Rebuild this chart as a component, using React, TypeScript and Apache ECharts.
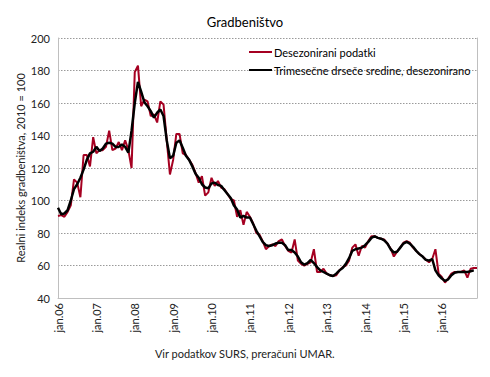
import React, { useEffect, useRef } from "react";
import * as echarts from "echarts";

const years = ["06", "07", "08", "09", "10", "11", "12", "13", "14", "15", "16"];
const months = ["jan", "feb", "mar", "apr", "maj", "jun", "jul", "avg", "sep", "okt", "nov", "dec"];

const desezonirani: number[] = [
  90.5, 91, 90, 93, 97, 113, 111, 102, 128, 128, 121, 139,
  129, 131, 131, 133, 143, 131, 132, 136, 131, 137, 131, 120,
  179, 183, 158, 162, 161, 152, 153, 148, 161, 159, 137, 116,
  125, 141, 141, 129, 128, 125, 122, 117, 111, 115, 103, 105,
  114, 109, 112, 108, 107, 104, 101, 100, 90, 94, 85, 93,
  90, 86, 80, 79, 75, 70, 72, 73, 72, 75, 76, 72,
  69, 68, 76, 63, 61, 60, 61, 62, 70, 56, 56, 58,
  55, 54, 53.5, 54, 57, 59, 60, 63, 71, 73, 66, 72,
  71, 75, 78, 78, 77, 76.5, 76, 73.5, 70.5, 65.5, 68.5, 71,
  74, 75, 74, 71, 69, 67, 65.5, 63.5, 62, 64, 70, 55,
  53, 49.5, 52, 55, 56, 56, 56, 57, 52.5, 58, 58.5, 58.5,
];

const trimesecne: (number | null)[] = [
  95.5, 91.5, 92, 94, 100, 107, 110, 114, 119, 125, 129, 130,
  133, 130.5, 132, 135, 135.5, 135, 133, 133, 134.5, 133, 129.5, 143,
  160, 173, 167, 160.5, 158, 155, 151, 154, 156, 152, 137, 126,
  127.5, 135.5, 137, 132.5, 127.5, 125, 121, 116.5, 114, 110, 108, 107.5,
  110.5, 111, 109.5, 109, 106.5, 104, 101.5, 97, 94.5, 89.5, 90.5, 89.5,
  89.5, 85.5, 81.5, 78, 74.5, 72.5, 72, 72.5, 73.5, 74, 74, 72.5,
  69.5, 69.5, 68, 65.5, 62, 60.5, 61.5, 63.5, 61.5, 59, 57, 56,
  55, 54, 53.5, 55, 57, 58.5, 61, 64.5, 69, 70, 70.5, 71,
  72.5, 74.5, 77, 78, 77, 76.5, 75.5, 73.5, 70, 68, 68.5, 71,
  73.5, 74.5, 73.5, 71.5, 69, 67, 65.5, 63.5, 63, 64, 57, 54,
  52, 50.5, 51.5, 54, 55.5, 56, 56, 56, 56, 56.5, 57, null,
];

const seriesNames = ["Desezonirani podatki", "Trimesečne drseče sredine, desezonirano"];
const titleText = "Gradbeništvo";
const yAxisName = "Realni indeks gradbeništva, 2010 = 100";
const sourceText = "Vir podatkov SURS, preračuni UMAR.";

const categories: string[] = [];
years.forEach((y) => months.forEach((m) => categories.push(m + "." + y)));

const FONT = "Lato, 'Open Sans', sans-serif";

export default function App() {
  const ref = useRef<HTMLDivElement>(null);
  useEffect(() => {
    if (!ref.current) return;
    const chart = echarts.init(ref.current, undefined, { renderer: "svg" });
    chart.setOption({
      animation: false,
      textStyle: { fontFamily: FONT },
      title: {
        text: titleText,
        left: "center",
        top: 10,
        textStyle: { fontFamily: FONT, fontSize: 13, fontWeight: "normal", color: "#000" },
      },
      legend: {
        orient: "vertical",
        left: 249,
        top: 45,
        padding: 0,
        itemGap: 4,
        itemWidth: 23,
        itemHeight: 2,
        icon: "rect",
        textStyle: { fontFamily: FONT, fontSize: 11, color: "#000", lineHeight: 14, padding: [0, 0, 0, -3] },
        data: seriesNames,
      },
      grid: { left: 58, right: 13, top: 38, bottom: 79, containLabel: false },
      xAxis: {
        type: "category",
        data: categories,
        boundaryGap: false,
        axisLine: { lineStyle: { color: "#bfbfbf", width: 1 } },
        axisTick: { show: false },
        splitLine: { show: false },
        axisLabel: {
          interval: (idx: number) => idx % 12 === 0,
          rotate: 90,
          margin: 5,
          fontFamily: FONT,
          fontSize: 11,
          color: "#222",
        },
      },
      yAxis: [
        {
          type: "value",
          min: 40,
          max: 200,
          interval: 20,
          name: yAxisName,
          nameLocation: "middle",
          nameRotate: 90,
          nameGap: 32,
          nameMoveOverlap: false,
          nameTextStyle: { fontFamily: FONT, fontSize: 11, color: "#222" },
          axisLine: { show: true, lineStyle: { color: "#bfbfbf", width: 1 } },
          axisTick: { show: false },
          axisLabel: { fontFamily: FONT, fontSize: 11, color: "#222", margin: 8 },
          splitLine: { show: true, lineStyle: { color: "#9a9a9a", type: [1.5, 1.5], width: 1 } },
        },
        {
          type: "value",
          min: 40,
          max: 200,
          interval: 20,
          position: "right",
          axisLine: { show: true, lineStyle: { color: "#bfbfbf", width: 1 } },
          axisTick: { show: false },
          axisLabel: { show: false },
          splitLine: { show: false },
        },
      ],
      series: [
        {
          name: seriesNames[0],
          type: "line",
          data: desezonirani,
          yAxisIndex: 0,
          symbol: "none",
          lineStyle: { color: "#a50021", width: 2 },
          itemStyle: { color: "#a50021" },
          z: 2,
        },
        {
          name: seriesNames[1],
          type: "line",
          data: trimesecne,
          yAxisIndex: 0,
          symbol: "none",
          lineStyle: { color: "#000", width: 2.5 },
          itemStyle: { color: "#000" },
          z: 3,
        },
      ],
      graphic: [
        {
          type: "text",
          left: "center",
          top: 348,
          style: { text: sourceText, fontFamily: FONT, fontSize: 11, fill: "#222" },
        },
      ],
    });
    return () => chart.dispose();
  }, []);
  return <div ref={ref} style={{ width: 490, height: 377, position: "absolute", left: 0, top: 0 }} />;
}
